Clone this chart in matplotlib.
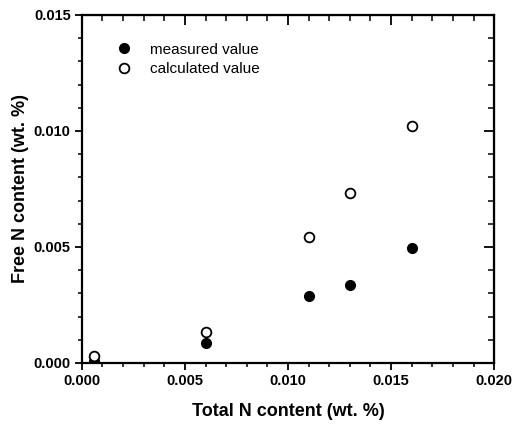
import matplotlib.pyplot as plt
from matplotlib.ticker import MultipleLocator, FormatStrFormatter

plt.rcParams['font.family'] = ['Liberation Sans', 'DejaVu Sans']

# data
total_n = [0.0006, 0.006, 0.011, 0.013, 0.016]
measured = [0.0001, 0.00085, 0.00287, 0.00334, 0.00495]
calculated = [0.0003, 0.00132, 0.00542, 0.00732, 0.01023]

fig = plt.figure(figsize=(5.28, 4.28), dpi=100)
ax = fig.add_axes([0.155, 0.152, 0.781, 0.813])

ax.plot(total_n, measured, 'o', color='black', markersize=7, label='measured value')
ax.plot(total_n, calculated, 'o', markerfacecolor='white', markeredgecolor='black',
        markeredgewidth=1.3, markersize=7, label='calculated value')

ax.set_xlim(0, 0.020)
ax.set_ylim(0, 0.015)
ax.xaxis.set_major_locator(MultipleLocator(0.005))
ax.xaxis.set_minor_locator(MultipleLocator(0.001))
ax.yaxis.set_major_locator(MultipleLocator(0.005))
ax.yaxis.set_minor_locator(MultipleLocator(0.001))
ax.xaxis.set_major_formatter(FormatStrFormatter('%.3f'))
ax.yaxis.set_major_formatter(FormatStrFormatter('%.3f'))

for s in ax.spines.values():
    s.set_linewidth(1.6)

ax.tick_params(which='major', direction='out', length=5, width=1.3,
               labelsize=10.5, pad=3)
ax.tick_params(which='minor', direction='out', length=3, width=1.1)
for lab in ax.get_xticklabels() + ax.get_yticklabels():
    lab.set_fontweight('bold')

# mirrored ticks on top and right, pointing inward
top = ax.secondary_xaxis('top')
top.xaxis.set_major_locator(MultipleLocator(0.005))
top.xaxis.set_minor_locator(MultipleLocator(0.001))
top.tick_params(which='major', direction='in', length=7, width=1.3, labeltop=False)
top.tick_params(which='minor', direction='in', length=4, width=1.1)
right = ax.secondary_yaxis('right')
right.yaxis.set_major_locator(MultipleLocator(0.005))
right.yaxis.set_minor_locator(MultipleLocator(0.001))
right.tick_params(which='major', direction='in', length=7, width=1.3, labelright=False)
right.tick_params(which='minor', direction='in', length=4, width=1.1)

ax.set_xlabel('Total N content (wt. %)', fontsize=13, fontweight='bold', labelpad=11)
ax.set_ylabel('Free N content (wt. %)', fontsize=13, fontweight='bold', labelpad=3)

ax.legend(loc='upper left', bbox_to_anchor=(0.05, 0.96), frameon=False,
          fontsize=11, handletextpad=1.2, labelspacing=0.35, handlelength=1.0)

fig.savefig('out.png', dpi=100)
